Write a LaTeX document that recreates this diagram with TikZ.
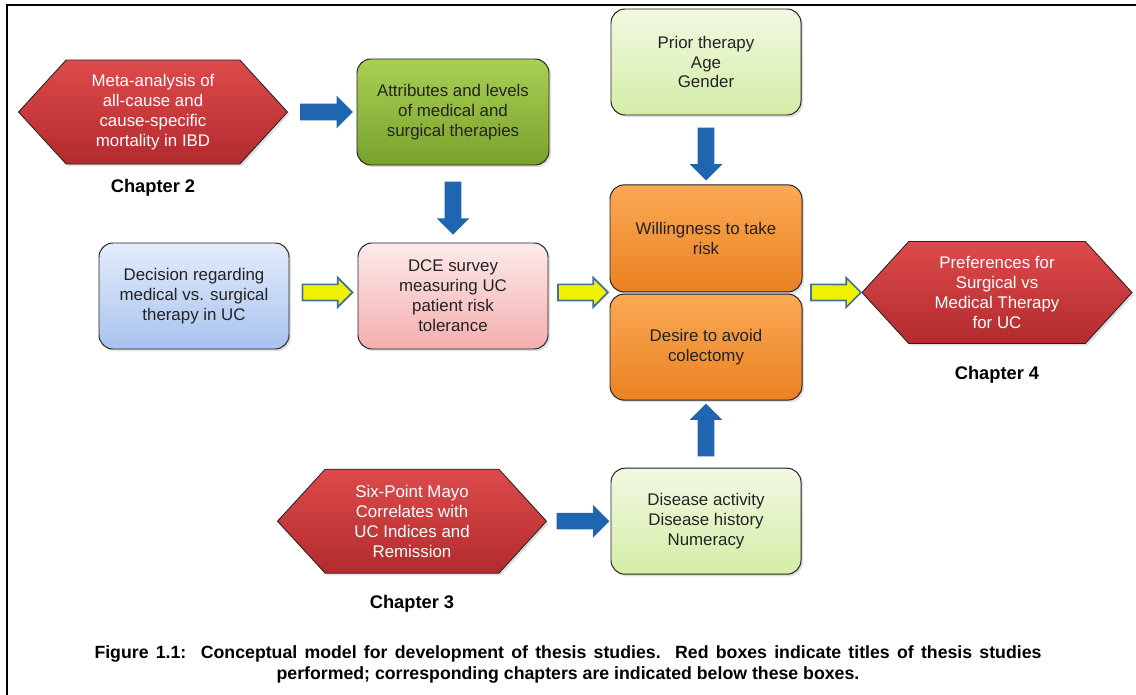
\documentclass[tikz,border=0pt]{standalone}
\usepackage{fontspec}
\setmainfont{Liberation Sans}
\usepackage{tikz}
\usetikzlibrary{positioning,shapes.symbols,shapes.arrows,shadows}
\definecolor{rougeH}{HTML}{DE4A4B}
\definecolor{rougeB}{HTML}{B22B2D}
\definecolor{vertH}{HTML}{A9CF55}
\definecolor{vertB}{HTML}{79A22B}
\definecolor{pailleH}{HTML}{F1F9E2}
\definecolor{pailleB}{HTML}{D4EDA6}
\definecolor{bleuH}{HTML}{E4ECFA}
\definecolor{bleuB}{HTML}{A7C3EF}
\definecolor{roseH}{HTML}{FDEAEA}
\definecolor{roseB}{HTML}{F4AEAE}
\definecolor{orangeH}{HTML}{FAA954}
\definecolor{orangeB}{HTML}{EB8122}
\definecolor{bleuF}{HTML}{1F65B0}
\definecolor{jauneF}{HTML}{EEF200}
\definecolor{bordJ}{HTML}{44709F}
\definecolor{grisT}{RGB}{35,35,35}
\newcommand{\txtbox}{\fontsize{12}{14.2}\selectfont}
\tikzset{
  boite/.style={rectangle, rounded corners=0.35cm, draw=grisT, line width=0.7pt,
                top color=#1H, bottom color=#1B, text=grisT, align=center, font=\txtbox,
                minimum width=4.75cm, minimum height=2.65cm,
                drop shadow={opacity=0.25, shadow xshift=1.5pt, shadow yshift=-1.5pt}},
  hexa/.style={signal, signal to=east and west, signal pointer angle=95, draw=grisT, line width=0.6pt,
               top color=rougeH, bottom color=rougeB, text=white, align=center, font=\txtbox,
               minimum width=6.725cm, minimum height=2.6cm,
               drop shadow={opacity=0.25, shadow xshift=1.5pt, shadow yshift=-1.5pt}},
  chap/.style={font=\fontsize{13}{15}\selectfont\bfseries, inner sep=0pt},
  fleche/.style={single arrow, fill=bleuF, minimum height=1.32cm, inner xsep=0pt, inner ysep=0.2cm,
                 single arrow head extend=0.2cm, sloped, allow upside down},
  flecheJ/.style={single arrow, fill=jauneF, draw=bordJ, line width=1.2pt, minimum height=1.25cm,
                  inner xsep=0pt, inner ysep=0.18cm, single arrow head extend=0.17cm, sloped, allow upside down},
}
\begin{document}
\begin{tikzpicture}
  \useasboundingbox (0,0) rectangle (28.4,-17.375);
  \draw[line width=2pt] (0.175,-17.6) |- (28.6,-0.125);
  \node[hexa] (meta) at (3.825,-2.8) {Meta-analysis of\\all-cause and\\cause-specific\\mortality in IBD};
  \node[chap, below=0.375cm of meta] (c2) {Chapter 2};
  \node[boite=vert, minimum width=4.8cm] (attr) at (11.325,-2.8) {Attributes and levels\\of medical and\\surgical therapies};
  \node[boite=bleu] (dec) at (4.85,-7.4) {Decision regarding\\medical vs. surgical\\therapy in UC};
  \node[boite=rose] (dce) at (11.325,-7.4) {DCE survey\\measuring UC\\patient risk\\tolerance};
  \node[boite=paille] (prior) at (17.65,-1.55) {Prior therapy\\Age\\Gender};
  \node[boite=orange, minimum width=4.8cm, minimum height=2.675cm] (will) at (17.65,-5.96) {Willingness to take\\risk};
  \node[boite=orange, minimum width=4.8cm, below=0.03cm of will] (desire) {Desire to avoid\\colectomy};
  \node[hexa, minimum width=6.75cm, minimum height=2.55cm] (pref) at (24.925,-7.3125) {Preferences for\\Surgical vs\\Medical Therapy\\for UC};
  \node[chap, below=0.55cm of pref] (c4) {Chapter 4};
  \node[hexa] (mayo) at (10.3,-13.03) {Six-Point Mayo\\Correlates with\\UC Indices and\\Remission};
  \node[chap, below=0.525cm of mayo] (c3) {Chapter 3};
  \node[boite=paille] (dis) at (17.65,-13.03) {Disease activity\\Disease history\\Numeracy};
  \node[font=\fontsize{12.6}{14.8}\selectfont\bfseries, align=center] (cap) at (14.2,-16.62)
    {\frenchspacing\makebox[23.675cm][s]{Figure 1.1:~ Conceptual model for development of thesis studies.~ Red boxes indicate titles of thesis studies}\\
     performed; corresponding chapters are indicated below these boxes.};
  \coordinate (j) at (will.south west);
  \path (meta) -- (attr) node[midway, fleche] {};
  \path (attr) -- (dce) node[midway, fleche] {};
  \path (prior) -- (will) node[midway, fleche] {};
  \path (dis) -- (desire) node[midway, fleche] {};
  \path (mayo) -- (dis) node[midway, fleche] {};
  \path (dec.east |- j) -- (dce.west |- j) node[midway, flecheJ] {};
  \path (dce.east |- j) -- (j) node[midway, flecheJ] {};
  \path (will.south east) -- (pref.west) node[midway, flecheJ] {};
\end{tikzpicture}
\end{document}
